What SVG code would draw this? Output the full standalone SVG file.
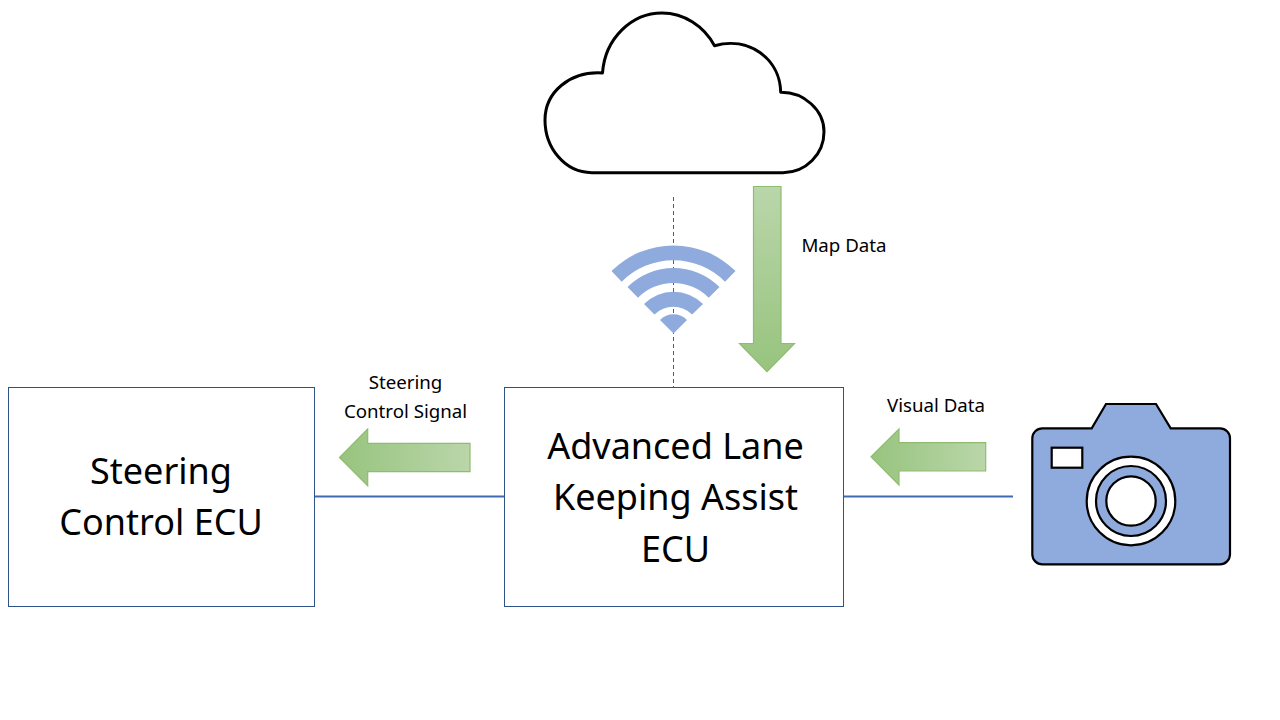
<svg xmlns="http://www.w3.org/2000/svg" width="1280" height="720" viewBox="0 0 1280 720">
<style>
.box{fill:#fff;stroke:#2f5288;stroke-width:1}
.big{font-family:"Noto Sans","Open Sans",sans-serif;font-size:36px;fill:#000;text-anchor:middle}
.small{font-family:"Noto Sans","Open Sans",sans-serif;font-size:18.700px;fill:#000;text-anchor:middle}
.link{fill:none;stroke:#3f6bb5;stroke-width:2}
.green{stroke:#8fbc6e;stroke-width:1.200}
.blue{fill:#8faadc}
.cam{stroke:#000;stroke-width:2.200}
</style>
<defs>
<linearGradient id="gd" x1="0" y1="0" x2="0" y2="1"><stop offset="0" stop-color="#bad6aa"/><stop offset="1" stop-color="#97c47e"/></linearGradient>
<linearGradient id="gl" x1="1" y1="0" x2="0" y2="0"><stop offset="0" stop-color="#bad6aa"/><stop offset="1" stop-color="#97c47e"/></linearGradient>
</defs>
<rect width="1280" height="720" fill="#fff"/>
<g id="connectors">
<path class="link" d="M315 496.500H504M844 496.500H1013"/>
<path d="M673.500 197V387" fill="none" stroke="#2f62a8" stroke-width="1" stroke-dasharray="4 3"/>
</g>
<g id="steering-ecu"><rect class="box" x="8.500" y="387.500" width="306" height="219"/>
<text class="big" x="161" y="484">Steering</text><text class="big" x="161" y="535">Control ECU</text></g>
<g id="lka-ecu"><rect class="box" x="504.500" y="387.500" width="339" height="219"/>
<text class="big" x="675.500" y="459">Advanced Lane</text><text class="big" x="675.500" y="510">Keeping Assist</text><text class="big" x="675.500" y="562">ECU</text></g>
<g id="cloud"><path d="M602.500 73C605 38 632 13 662 13C684 13 704 26 714.500 45.700C748 36 780 58 780.700 92.300C804 92 824 110 824 131.700C824 154 806 172.700 783 172.700H591.700C565 172.700 545 148 545 120C545 92 570 71 602.500 73Z" fill="#fff" stroke="#000" stroke-width="3" stroke-linejoin="round"/></g>
<g id="wifi" class="blue">
<path d="M611.500 271A88 88 0 0 1 735.500 271L725 281.700A73 73 0 0 0 621.700 281.700Z"/>
<path d="M627.500 287A65 65 0 0 1 719.500 287L708.700 297.700A50 50 0 0 0 638 297.700Z"/>
<path d="M644 304A41.600 41.600 0 0 1 703 304L692.100 314.500A26.600 26.600 0 0 0 654.500 314.500Z"/>
<path d="M660 320A19 19 0 0 1 687 320L673.500 333.500Z"/>
</g>
<g id="camera">
<path class="cam blue" d="M1042.300 428.300H1091.700L1106 404H1156L1170.700 428.300H1220A10 10 0 0 1 1230 438.300V554.300A10 10 0 0 1 1220 564.300H1042.300A10 10 0 0 1 1032.300 554.300V438.300A10 10 0 0 1 1042.300 428.300Z"/>
<rect class="cam" fill="#fff" x="1051.700" y="447.700" width="30.600" height="20"/>
<circle class="cam" fill="#fff" cx="1131" cy="501" r="44.300"/>
<circle class="cam blue" cx="1131" cy="501" r="35"/>
<circle class="cam" fill="#fff" cx="1131" cy="501" r="24.700"/>
</g>
<g id="map-data"><path class="green" fill="url(#gd)" d="M753.500 186.500H781V343.500H794.500L767 371.700L739.500 343.500H753.500Z"/>
<text class="small" x="844" y="252">Map Data</text></g>
<g id="steering-signal"><path class="green" fill="url(#gl)" d="M470 443.300V471.700H367.700V485.700L339.500 457.500L367.700 429V443.300Z"/>
<text class="small" x="405.500" y="389">Steering</text><text class="small" x="405.500" y="418">Control Signal</text></g>
<g id="visual-data"><path class="green" fill="url(#gl)" d="M985.700 442.700V471H899V485L871 456.800L899 429V442.700Z"/>
<text class="small" x="936" y="412">Visual Data</text></g>
</svg>
